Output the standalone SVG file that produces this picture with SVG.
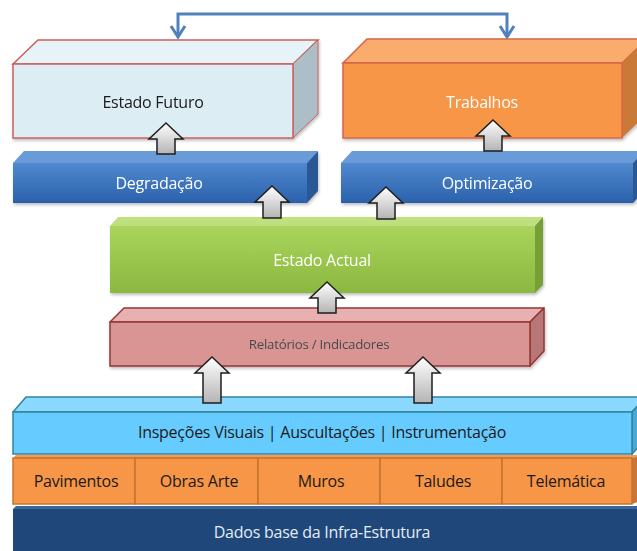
<svg xmlns="http://www.w3.org/2000/svg" width="637" height="551" viewBox="0 0 637 551">
  <style>
    text { font-family: "Open Sans", "Noto Sans", "DejaVu Sans", sans-serif; text-anchor: middle; letter-spacing: -0.25px; }
    .lbl { font-size: 16px; }
    .dark { fill: #1a1a1a; }
    .light { fill: #ffffff; }
    .up { fill: url(#gArrow); stroke: #1e1e1e; stroke-width: 1.5; stroke-linejoin: miter; }
    .link { fill: none; stroke: #4f81bd; stroke-width: 3; stroke-linejoin: miter; }
  </style>
  <defs>
    <linearGradient id="gArrow" x1="0" y1="0" x2="0" y2="1">
      <stop offset="0" stop-color="#ffffff"/>
      <stop offset="1" stop-color="#b4b4b4"/>
    </linearGradient>
    <linearGradient id="gBlue" x1="0" y1="0" x2="0" y2="1">
      <stop offset="0" stop-color="#5089cf"/>
      <stop offset="1" stop-color="#2b61ab"/>
    </linearGradient>
    <linearGradient id="gGreen" x1="0" y1="0" x2="0" y2="1">
      <stop offset="0" stop-color="#aad45c"/>
      <stop offset="1" stop-color="#8bb840"/>
    </linearGradient>
    <filter id="shadow" x="-5%" y="-10%" width="110%" height="130%">
      <feDropShadow dx="1" dy="2" stdDeviation="1.5" flood-color="#000" flood-opacity="0.25"/>
    </filter>
  </defs>

  <!-- two-way link between future state and works -->
  <g id="connectors">
    <polyline class="link" points="178,37 178,14 507,14 507,37"/>
    <polyline class="link" points="171,26 178,37 185,26"/>
    <polyline class="link" points="500,26 507,37 514,26"/>
  </g>

  <g id="estado-futuro" filter="url(#shadow)">
    <polygon points="13,64 38,40 318,40 293,64" fill="#e6f3f7" stroke="#cc5f5c" stroke-width="1.5"/>
    <polygon points="293,64 318,40 318,114 293,138" fill="#adbfc6" stroke="#cc5f5c" stroke-width="1"/>
    <rect x="13" y="64" width="280" height="74" fill="#dceef4" stroke="#cc5f5c" stroke-width="1.5"/>
    <text class="lbl dark" x="153" y="108">Estado Futuro</text>
  </g>

  <g id="trabalhos" filter="url(#shadow)">
    <polygon points="343,63 367,39 647,39 622,63" fill="#f9ac6c" stroke="#d8654a" stroke-width="1.5"/>
    <polygon points="622,63 647,39 647,114 622,138" fill="#c97a38"/>
    <rect x="343" y="63" width="279" height="75" fill="#f79646" stroke="#d8654a" stroke-width="1.5"/>
    <text class="lbl light" x="482" y="108">Trabalhos</text>
  </g>

  <g id="degradacao" filter="url(#shadow)">
    <polygon points="13,163 24,151 318,151 307,163" fill="#699bd9"/>
    <polygon points="307,163 318,151 318,191 307,203" fill="#2a5895"/>
    <rect x="13" y="163" width="294" height="40" fill="url(#gBlue)"/>
    <text class="lbl light" x="159" y="189">Degradação</text>
  </g>

  <g id="optimizacao" filter="url(#shadow)">
    <polygon points="341,163 352,151 644,151 633,163" fill="#699bd9"/>
    <polygon points="633,163 644,151 644,191 633,203" fill="#2a5895"/>
    <rect x="341" y="163" width="292" height="40" fill="url(#gBlue)"/>
    <text class="lbl light" x="487" y="189">Optimização</text>
  </g>

  <g id="estado-actual" filter="url(#shadow)">
    <polygon points="110,226 118,217 543,217 535,226" fill="#c0e07f"/>
    <polygon points="535,226 543,217 543,285 535,293" fill="#76a035"/>
    <rect x="110" y="226" width="425" height="67" fill="url(#gGreen)"/>
    <text class="lbl light" x="322" y="266">Estado Actual</text>
  </g>

  <g id="relatorios" filter="url(#shadow)">
    <polygon points="110,322 124,308 544,308 530,322" fill="#e6b1b0" stroke="#953735" stroke-width="1.5" stroke-linejoin="round"/>
    <polygon points="530,322 544,308 544,351 530,366" fill="#b77776" stroke="#953735" stroke-width="1.5" stroke-linejoin="round"/>
    <rect x="110" y="322" width="420" height="44" fill="#d99594" stroke="#953735" stroke-width="1.5"/>
    <text x="319" y="349" font-size="13.3" fill="#4a4a4a">Relatórios / Indicadores</text>
  </g>

  <g id="inspecoes">
    <polygon points="13,412 26,397 646,397 632,412" fill="#8bd8ff" stroke="#31859c" stroke-width="1.5" stroke-linejoin="round"/>
    <polygon points="632,412 646,397 646,439 632,454" fill="#4aa8d2" stroke="#31859c" stroke-width="1.5"/>
    <rect x="13" y="412" width="619" height="42" fill="#66ccff" stroke="#31859c" stroke-width="1.5"/>
    <text class="lbl dark" x="322" y="438">Inspeções Visuais  |  Auscultações  |  Instrumentação</text>
  </g>

  <g id="disciplinas">
    <polygon points="13,458 16,455 640,455 632,458" fill="#f59a50"/>
    <polygon points="632,458 640,455 640,501 632,504" fill="#c8763a"/>
    <g stroke="#c6732f" stroke-width="1.5" fill="#f79646">
      <rect x="13" y="458" width="122" height="46"/>
      <rect x="135" y="458" width="123" height="46"/>
      <rect x="258" y="458" width="122" height="46"/>
      <rect x="380" y="458" width="122" height="46"/>
      <rect x="502" y="458" width="130" height="46"/>
    </g>
    <text class="lbl dark" x="76" y="487">Pavimentos</text>
    <text class="lbl dark" x="199" y="487">Obras Arte</text>
    <text class="lbl dark" x="321" y="487">Muros</text>
    <text class="lbl dark" x="443" y="487">Taludes</text>
    <text class="lbl dark" x="566" y="487">Telemática</text>
  </g>

  <g id="dados-base">
    <polygon points="13,509 16,506 637,506 637,509" fill="#3b679c"/>
    <rect x="13" y="509" width="624" height="44" fill="#1f477a"/>
    <text class="lbl" x="322" y="538" fill="#e4ecf6">Dados base da Infra-Estrutura</text>
  </g>

  <!-- upward flow arrows between layers -->
  <g id="flow-arrows">
    <path class="up" d="M166,123 L183,139 L175,139 L175,154 L157,154 L157,139 L149,139 Z"/>
    <path class="up" d="M493,120 L510,136 L502,136 L502,151 L484,151 L484,136 L476,136 Z"/>
    <path class="up" d="M272,186 L289,202 L281,202 L281,218 L263,218 L263,202 L255,202 Z"/>
    <path class="up" d="M386,187 L403,203 L395,203 L395,219 L377,219 L377,203 L369,203 Z"/>
    <path class="up" d="M327,282 L344,298 L336,298 L336,313 L318,313 L318,298 L310,298 Z"/>
    <path class="up" d="M212,357 L229,373 L221,373 L221,403 L203,403 L203,373 L195,373 Z"/>
    <path class="up" d="M423,357 L440,373 L432,373 L432,403 L414,403 L414,373 L406,373 Z"/>
  </g>
</svg>
